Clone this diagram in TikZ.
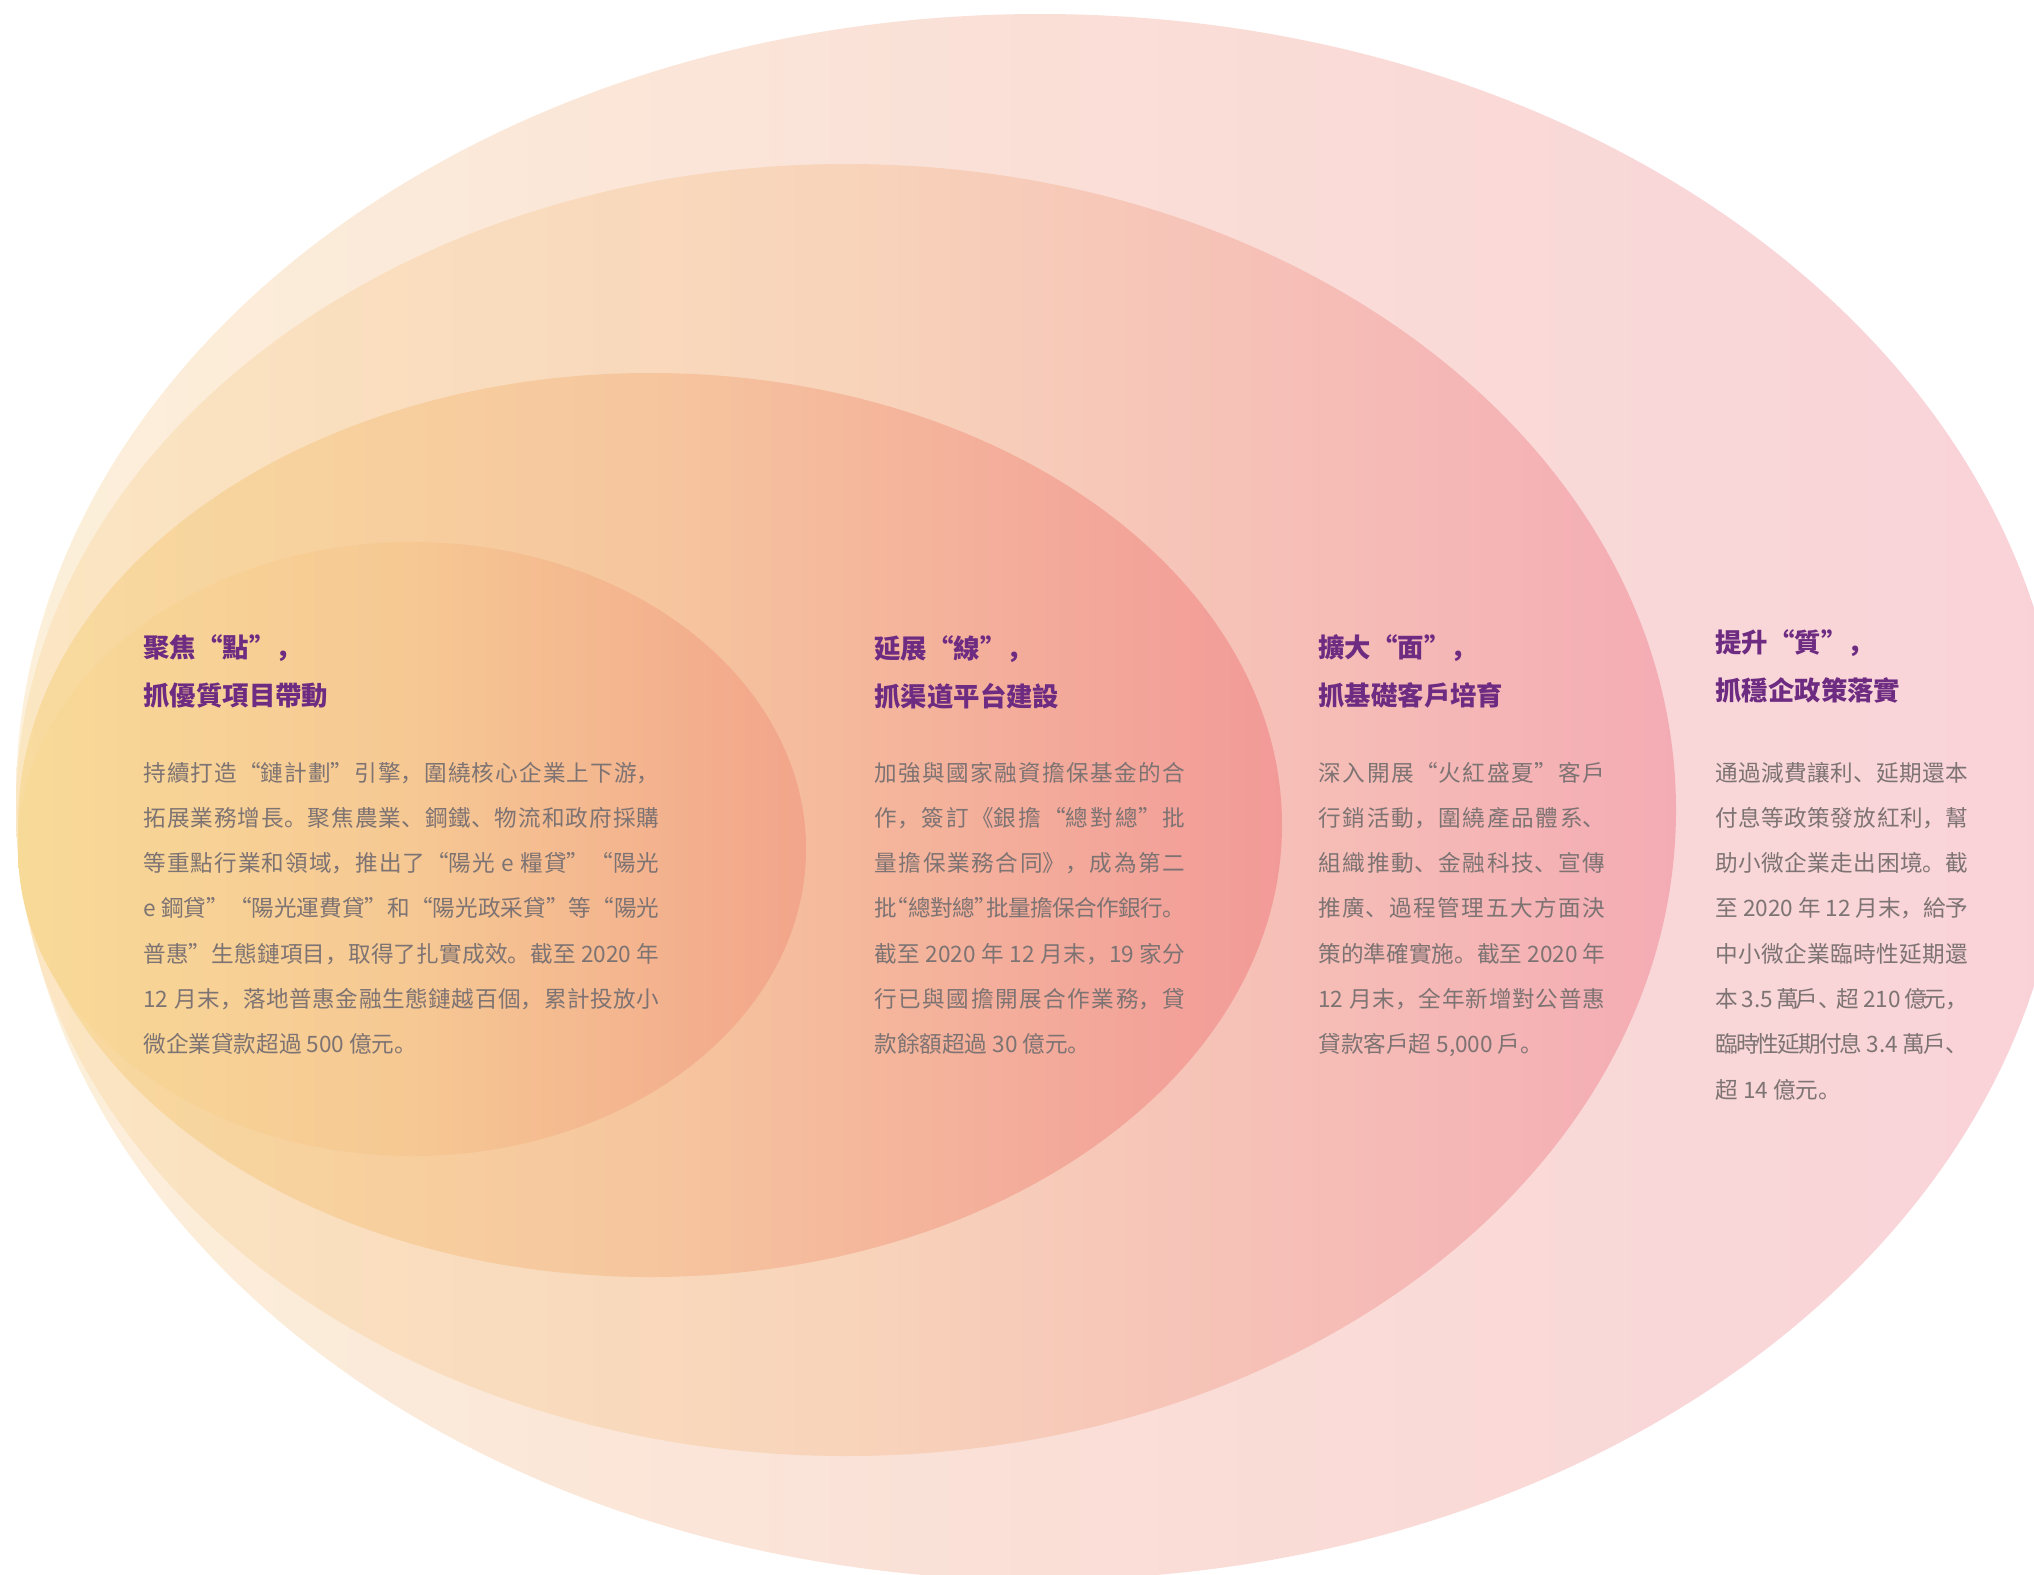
\documentclass[tikz,border=0pt]{standalone}
\usepackage{fontspec}
\setmainfont{Noto Sans CJK SC}
\XeTeXlinebreaklocale "zh"
\XeTeXlinebreakskip=0pt plus 1pt minus 2pt

\definecolor{headpurple}{HTML}{6D2B81}
\definecolor{bodygray}{HTML}{7E7373}

% half-width quotes for squeezed lines
\newcommand{\hoq}{\makebox[.5em][r]{“}}
\newcommand{\hcq}{\makebox[.5em][l]{”}}

\begin{document}
\tolerance=10000
\spaceskip=2.3pt plus 5pt minus 1.1pt
\begin{tikzpicture}[x=0.5pt,y=-0.5pt,
  heading/.style={inner sep=0pt, anchor=base west, align=left, text=headpurple,
    font=\fontsize{13.2}{24}\selectfont\bfseries},
  bodytext/.style={inner sep=0pt, anchor=base west, align=justify, text=bodygray,
    font=\fontsize{11.3}{22.65}\selectfont}]

\pgfmathsetmacro{\headrow}{705}
\pgfmathsetmacro{\bodyrow}{781}

\clip (0,0) rectangle (2034,1574);

% Outer ellipse:
\shade[left color={rgb,255:red,252;green,240;blue,218},
       right color={rgb,255:red,249;green,210;blue,216},
       middle color={rgb,255:red,250;green,223;blue,215}]
      (1040,797) ellipse [x radius=1024, y radius=783];
% Second ellipse:
\shade[left color={rgb,255:red,251;green,230;blue,194},
       right color={rgb,255:red,244;green,172;blue,180},
       middle color={rgb,255:red,248;green,212;blue,186}]
      (846,810) ellipse [x radius=830, y radius=646];
% Third ellipse:
\shade[left color={rgb,255:red,248;green,219;blue,158},
       right color={rgb,255:red,242;green,154;blue,152},
       middle color={rgb,255:red,246;green,198;blue,158}]
      (650,825) ellipse [x radius=632, y radius=452];
% Inner ellipse:
\shade[left color={rgb,255:red,248;green,218;blue,152},
       right color={rgb,255:red,242;green,165;blue,139},
       middle color={rgb,255:red,246;green,200;blue,147}]
      (412,849) ellipse [x radius=394, y radius=307];

% Point
\node[heading] (pointhead) at (143,\headrow) {聚焦“點”，\\抓優質項目帶動};
\node[bodytext, text width=258pt] (pointbody) at (143,\bodyrow)
  {持續打造“鏈計劃”引擎，圍繞核心企業上下游，\linebreak
   拓展業務增長。聚焦農業、鋼鐵、物流和政府採購\linebreak
   等重點行業和領域，推出了“陽光 e 糧貸”“陽光\linebreak
   e 鋼貸”“陽光運費貸”和“陽光政采貸”等“陽光\linebreak
   普惠”生態鏈項目，取得了扎實成效。截至 2020 年\linebreak
   12 月末，落地普惠金融生態鏈越百個，累計投放小\linebreak
   微企業貸款超過 500 億元。};

% Line
\node[heading] (linehead) at (874,\headrow+1) {延展“線”，\\抓渠道平台建設};
\node[bodytext, text width=155.5pt] (linebody) at (874,\bodyrow)
  {加強與國家融資擔保基金的合\linebreak
   作，簽訂《銀擔“總對總”批\linebreak
   量擔保業務合同》，成為第二\linebreak
   批\hoq 總對總\hcq 批量擔保合作銀行。\linebreak
   截至 2020 年 12 月末，19 家分\linebreak
   行已與國擔開展合作業務，貸\linebreak
   款餘額超過 30 億元。};

% Surface
\node[heading] (surfacehead) at (1318,\headrow) {擴大“面”，\\抓基礎客戶培育};
\node[bodytext, text width=143.5pt] (surfacebody) at (1318,\bodyrow)
  {深入開展“火紅盛夏”客戶\linebreak
   行銷活動，圍繞產品體系、\linebreak
   組織推動、金融科技、宣傳\linebreak
   推廣、過程管理五大方面決\linebreak
   策的準確實施。截至 2020 年\linebreak
   12 月末，全年新增對公普惠\linebreak
   貸款客戶超 5,000 戶。};

% Quality
\node[heading] (qualityhead) at (1715,\headrow-5) {提升“質”，\\抓穩企政策落實};
\node[bodytext, text width=126.5pt] (qualitybody) at (1715,\bodyrow)
  {通過減費讓利、延期還本\linebreak
   付息等政策發放紅利，幫\linebreak
   助小微企業走出困境。截\linebreak
   至 2020 年 12 月末，給予\linebreak
   中小微企業臨時性延期還\linebreak
   本 3.5 萬戶、超 210 億元，\linebreak
   臨時性延期付息 3.4 萬戶、\linebreak
   超 14 億元。};

\end{tikzpicture}
\end{document}
